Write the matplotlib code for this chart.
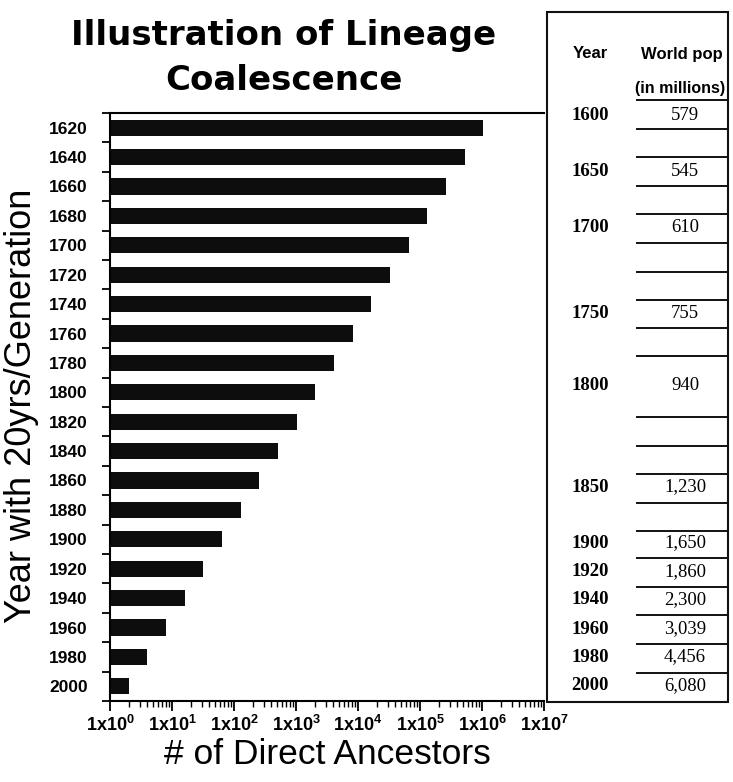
import numpy as np
import matplotlib.pyplot as plt
from matplotlib.ticker import FixedLocator, LogLocator, NullFormatter

plt.rcParams['mathtext.fontset'] = 'custom'
plt.rcParams['mathtext.bf'] = 'Liberation Sans:bold'
plt.rcParams['mathtext.rm'] = 'Liberation Sans'

# generations, 20 years each
years = [1620, 1640, 1660, 1680, 1700, 1720, 1740, 1760, 1780, 1800,
         1820, 1840, 1860, 1880, 1900, 1920, 1940, 1960, 1980, 2000]
ancestors = [1048576, 524288, 262144, 131072, 65536, 32768, 16384, 8192,
             4096, 2048, 1024, 512, 256, 128, 64, 32, 16, 8, 4, 2]

# side table
table_years = ['1600', '1650', '1700', '1750', '1800', '1850',
               '1900', '1920', '1940', '1960', '1980', '2000']
table_pop = ['579', '545', '610', '755', '940', '1,230',
             '1,650', '1,860', '2,300', '3,039', '4,456', '6,080']

W, H = 733, 782
fig = plt.figure(figsize=(W / 100, H / 100), dpi=100)

sans = 'Liberation Sans'
serif = 'Liberation Serif'

# main bar chart
ax = fig.add_axes([110 / W, 1 - 701 / H, 434 / W, (701 - 113) / H])
ax.set_xscale('log')
pos = np.arange(len(years))
ax.barh(pos, ancestors, height=0.55, color='#0d0d0d')
ax.set_xlim(1, 1e7)
ax.set_ylim(len(years) - 0.5, -0.5)

ax.set_yticks(pos)
ax.set_yticklabels([str(y) for y in years], fontfamily=sans,
                   fontweight='bold', fontsize=12.5)
ax.yaxis.set_minor_locator(FixedLocator(np.arange(-0.5, len(years), 1)))
ax.tick_params(axis='y', which='major', length=0, pad=16)
ax.tick_params(axis='y', which='minor', length=6, width=1.3, direction='out')

ax.xaxis.set_minor_locator(LogLocator(base=10, subs=np.arange(2, 10), numticks=10))
ax.xaxis.set_minor_formatter(NullFormatter())
ax.set_xticks([10 ** k for k in range(8)])
ax.set_xticklabels([r'$\mathbf{1x10^{%d}}$' % k for k in range(8)], fontsize=13)
ax.tick_params(axis='x', which='major', length=7, width=1.3, pad=3)
ax.tick_params(axis='x', which='minor', length=4, width=1)

for s in ['left', 'bottom', 'top']:
    ax.spines[s].set_linewidth(1.5)
ax.spines['right'].set_visible(False)

ax.set_xlabel('# of Direct Ancestors', fontfamily=sans, fontsize=25.5, labelpad=2)
fig.text(22 / W, 1 - 406 / H, 'Year with 20yrs/Generation', rotation=90,
         ha='center', va='center', fontfamily=sans, fontsize=26)

# title
fig.text(284 / W, 1 - 36 / H, 'Illustration of Lineage', ha='center', va='center',
         fontfamily='DejaVu Sans', fontweight='bold', fontsize=24.5)
fig.text(284 / W, 1 - 81 / H, 'Coalescence', ha='center', va='center',
         fontfamily='DejaVu Sans', fontweight='bold', fontsize=24.5)

# table drawn in pixel coordinates
tx = fig.add_axes([0, 0, 1, 1], facecolor='none')
tx.set_xlim(0, W)
tx.set_ylim(H, 0)
tx.axis('off')
tx.add_patch(plt.Rectangle((547, 12), 181, 690, fill=False, lw=1.5, ec='#111'))

row_y = [115, 172, 228, 313, 386, 487, 543, 572, 600, 629, 657, 686]
rule_y = [100, 129, 157, 186, 214, 243, 272, 300, 328, 356,
          417, 446, 474, 503, 531, 558, 587, 615, 644, 673]
for y in rule_y:
    tx.plot([637, 728], [y, y], color='#111', lw=1.4)

tx.text(590, 54, 'Year', ha='center', va='center', fontfamily=sans,
        fontsize=12, fontweight='bold')
tx.text(682, 54, 'World pop', ha='center', va='center', fontfamily=sans,
        fontsize=12, fontweight='bold')
tx.text(680, 88, '(in millions)', ha='center', va='center', fontfamily=sans,
        fontsize=11.5, fontweight='bold')
for y, yr, p in zip(row_y, table_years, table_pop):
    tx.text(590, y, yr, ha='center', va='center', fontfamily=serif,
            fontsize=13.5, fontweight='bold')
    tx.text(685, y, p, ha='center', va='center', fontfamily=serif, fontsize=13.5)

fig.savefig('out.png', dpi=100)
